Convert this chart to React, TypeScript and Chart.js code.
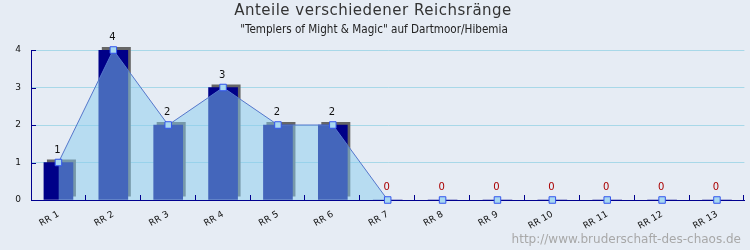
import React, { useEffect, useRef } from "react";
import { Chart, registerables } from "chart.js";

Chart.register(...registerables);

const categories = ["RR 1", "RR 2", "RR 3", "RR 4", "RR 5", "RR 6", "RR 7", "RR 8", "RR 9", "RR 10", "RR 11", "RR 12", "RR 13"];
const rankCounts = [1, 4, 2, 3, 2, 2, 0, 0, 0, 0, 0, 0, 0];
const yTicks = [0, 1, 2, 3, 4];
const titleText = "Anteile verschiedener Reichsränge";
const subtitleText = "\"Templers of Might & Magic\" auf Dartmoor/Hibemia";
const footerText = "http://www.bruderschaft-des-chaos.de";

const BG = "#E6ECF4";
const NAVY = "#000088";
const AXIS = "#00008F";

const decorPlugin = {
  id: "decor",
  beforeDraw(chart: any) {
    const ctx = chart.ctx;
    ctx.save();
    ctx.fillStyle = BG;
    ctx.fillRect(0, 0, chart.width, chart.height);
    ctx.restore();
  },
  beforeDatasetDraw(chart: any, args: any) {
    if (args.index !== 0) return;
    const ctx = chart.ctx;
    const meta = chart.getDatasetMeta(0);
    ctx.save();
    ctx.fillStyle = "#666666";
    meta.data.forEach((el: any, i: number) => {
      if (!rankCounts[i]) return;
      const w = el.width;
      ctx.fillRect(el.x - w / 2 + 3, el.y - 3, w, el.base - el.y);
    });
    ctx.restore();
  },
  afterDraw(chart: any) {
    const ctx = chart.ctx;
    const area = chart.chartArea;
    const xs = chart.scales.x;
    const ys = chart.scales.y;
    ctx.save();
    ctx.strokeStyle = AXIS;
    ctx.lineWidth = 1;
    ctx.beginPath();
    const n = categories.length;
    for (let k = 1; k <= n; k++) {
      const x = Math.round(xs.left + (k * (xs.right - xs.left)) / n) - 0.5;
      ctx.moveTo(x, area.bottom);
      ctx.lineTo(x, area.bottom - 5);
    }
    yTicks.forEach((v) => {
      const y = Math.round(ys.getPixelForValue(v)) + 0.5;
      ctx.moveTo(area.left, y);
      ctx.lineTo(area.left + 5, y);
    });
    ctx.stroke();

    const meta = chart.getDatasetMeta(1);
    ctx.font = "10px 'DejaVu Sans'";
    ctx.textAlign = "center";
    ctx.textBaseline = "middle";
    meta.data.forEach((pt: any, i: number) => {
      ctx.fillStyle = rankCounts[i] === 0 ? "#AA0000" : "#111111";
      ctx.fillText(String(rankCounts[i]), pt.x - 1, pt.y - 12.5);
    });

    ctx.fillStyle = "#333333";
    ctx.font = "15px 'DejaVu Sans'";
    (ctx as any).letterSpacing = "0.5px";
    ctx.fillText(titleText, 373, 11);
    (ctx as any).letterSpacing = "0px";
    ctx.fillStyle = "#222222";
    ctx.font = "11.6px 'DejaVu Sans Condensed', 'DejaVu Sans'";
    ctx.fillText(subtitleText, 374, 30);
    ctx.fillStyle = "#A8A8A8";
    ctx.font = "12px 'DejaVu Sans'";
    ctx.textAlign = "right";
    ctx.fillText(footerText, 741, 240);
    ctx.restore();
  },
};

export default function App() {
  const ref = useRef<HTMLCanvasElement>(null);
  useEffect(() => {
    if (!ref.current) return;
    Chart.defaults.font.family = "'DejaVu Sans'";
    const chart = new Chart(ref.current, {
      type: "bar",
      data: {
        labels: categories,
        datasets: [
          {
            type: "bar",
            data: rankCounts,
            backgroundColor: NAVY,
            borderWidth: 0,
            barThickness: 29,
            order: 2,
          } as any,
          {
            type: "line",
            data: rankCounts,
            fill: "origin",
            clip: false,
            backgroundColor: "rgba(136,204,238,0.5)",
            borderColor: "#5577CC",
            borderWidth: 1,
            tension: 0,
            pointStyle: "rect",
            pointRadius: 4.6,
            pointBackgroundColor: "#A8D8F0",
            pointBorderColor: "#3355EE",
            pointBorderWidth: 1,
            order: 1,
            segment: {
              borderColor: (c: any) =>
                c.p0.parsed.y === 0 && c.p1.parsed.y === 0 ? "rgba(0,0,0,0)" : "#5577CC",
            },
          } as any,
        ],
      },
      plugins: [decorPlugin],
      options: {
        responsive: false,
        animation: false,
        devicePixelRatio: 1,
        layout: { padding: { top: 50, right: 5, left: 0, bottom: 0 } },
        plugins: { legend: { display: false }, tooltip: { enabled: false } },
        scales: {
          x: {
            offset: true,
            grid: { display: false, drawTicks: false },
            border: { display: true, color: AXIS, width: 1 },
            ticks: {
              autoSkip: false,
              minRotation: 30,
              maxRotation: 30,
              padding: 9,
              color: "#111111",
              font: { size: 9 },
            },
            afterFit: (s: any) => {
              s.height = 50;
            },
          },
          y: {
            min: 0,
            max: 4,
            grid: { color: "#A8D8E8", drawTicks: false },
            border: { display: true, color: AXIS, width: 1 },
            ticks: { stepSize: 1, padding: 10, color: "#111111", font: { size: 9 } },
            afterFit: (s: any) => {
              s.width = 31;
            },
          },
        },
      },
    });
    return () => chart.destroy();
  }, []);
  return (
    <canvas
      ref={ref}
      width={750}
      height={250}
      style={{ position: "fixed", left: 0, top: 0, width: 750, height: 250 }}
    />
  );
}
